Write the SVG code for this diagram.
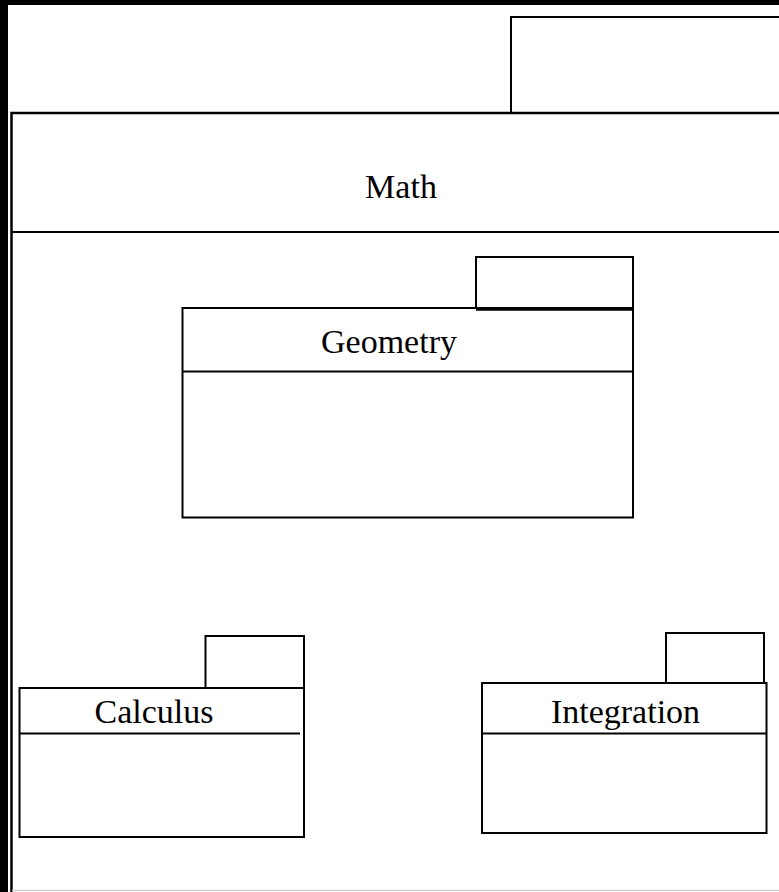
<svg xmlns="http://www.w3.org/2000/svg" width="779" height="892" viewBox="0 0 779 892">
<style>
.ln{fill:none;stroke:#000;stroke-width:2}
.bx{fill:#fff;stroke:#000;stroke-width:2}
.lbl{font-family:"Liberation Serif","Times New Roman",serif;font-size:34px;fill:#000;text-anchor:middle}
</style>
<rect x="0" y="0" width="779" height="892" fill="#fff"/>
<rect x="0" y="0" width="779" height="5" fill="#000"/>
<rect x="0" y="0" width="8" height="892" fill="#000"/>
<g id="math">
<rect class="bx" x="511" y="17" width="280" height="96"/>
<path class="ln" d="M11.5,892 V113 H790" style="stroke-width:2.5"/>
<line class="ln" x1="11" y1="232" x2="779" y2="232"/>
<line x1="12" y1="890.5" x2="779" y2="890.5" stroke="#cfcfcf" stroke-width="1.5"/>
<text class="lbl" x="401" y="198">Math</text>
</g>
<g id="geometry">
<rect class="bx" x="182.5" y="308" width="450.5" height="209.5"/>
<rect class="bx" x="476" y="257" width="157" height="51"/>
<line class="ln" x1="476" y1="309" x2="634" y2="309" style="stroke-width:3.5"/>
<line class="ln" x1="182" y1="371.5" x2="633" y2="371.5"/>
<text class="lbl" x="389" y="353">Geometry</text>
</g>
<g id="calculus">
<rect class="bx" x="205.5" y="636" width="98.5" height="52"/>
<rect class="bx" x="19.5" y="688" width="284.5" height="149"/>
<line class="ln" x1="19" y1="733.5" x2="300" y2="733.5"/>
<text class="lbl" x="154" y="723">Calculus</text>
</g>
<g id="integration">
<rect class="bx" x="666" y="633" width="98" height="50"/>
<rect class="bx" x="482" y="683" width="284.5" height="150"/>
<line class="ln" x1="482" y1="733.5" x2="766" y2="733.5"/>
<text class="lbl" x="625.5" y="723">Integration</text>
</g>
<g id="connectors"></g>
</svg>
